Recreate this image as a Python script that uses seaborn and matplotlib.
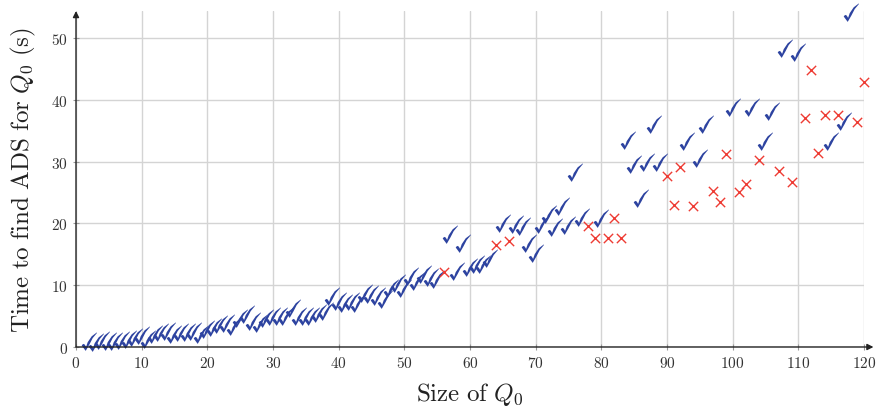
import numpy as np
import matplotlib
matplotlib.use('Agg')
import matplotlib.pyplot as plt
from matplotlib.path import Path
import seaborn as sns

# sizes of Q0 solved with an ADS found (check) and without (cross)
check_x = [2, 3, 4, 5, 6, 7, 8, 9, 10, 11, 12, 13, 14, 15, 16, 17, 18, 19, 20,
           21, 22, 23, 24, 25, 26, 27, 28, 29, 30, 31, 32, 33, 34, 35, 36, 37,
           38, 39, 40, 41, 42, 43, 44, 45, 46, 47, 48, 49, 50, 51, 52, 53, 54,
           55, 57, 58, 59, 60, 61, 62, 63, 65, 67, 68, 69, 70, 71, 72, 73, 74,
           75, 76, 77, 80, 84, 85, 86, 87, 88, 89, 93, 95, 96, 100, 103, 105,
           106, 108, 110, 115, 117, 118]
check_y = [0.8, 0.6, 0.9, 0.8, 0.8, 0.9, 1.2, 1.5, 1.8, 1.2, 2.0, 2.2, 2.5, 2.0,
           2.2, 2.3, 2.5, 2.0, 2.7, 3.0, 3.5, 3.8, 3.2, 4.5, 5.1, 4.1, 3.8, 4.6,
           4.9, 4.9, 4.9, 6.2, 4.9, 4.9, 4.9, 5.4, 5.7, 8.1, 7.3, 7.0, 7.3, 7.0,
           8.6, 8.4, 8.1, 7.6, 9.4, 10.2, 9.4, 11.3, 10.5, 11.6, 11.1, 10.8,
           18.1, 12.1, 16.6, 12.8, 13.2, 13.2, 14.3, 19.9, 19.7, 19.4, 16.6,
           15.1, 19.8, 21.3, 19.3, 22.7, 19.6, 28.2, 20.9, 20.7, 33.4, 29.4,
           24.0, 29.8, 36.0, 29.8, 33.2, 30.5, 35.9, 38.7, 38.7, 33.1, 38.1,
           48.2, 47.6, 33.1, 36.4, 54.1]

cross_x = [56, 64, 66, 78, 79, 81, 82, 83, 90, 91, 92, 94, 97, 98, 99, 101,
           102, 104, 107, 109, 111, 112, 113, 114, 116, 119, 120]
cross_y = [12.1, 16.5, 17.1, 19.6, 17.6, 17.6, 20.9, 17.6, 27.7, 23.0, 29.1,
           22.8, 25.3, 23.5, 31.2, 25.1, 26.4, 30.2, 28.4, 26.7, 37.0, 44.9,
           31.4, 37.6, 37.6, 36.4, 42.8]

xticks = list(range(0, 121, 10))
yticks = list(range(0, 51, 10))

DPI = 100
sns.set_style('white')
plt.rcParams['mathtext.fontset'] = 'cm'
plt.rcParams['font.family'] = ['DejaVu Serif']

# checkmark glyph, pixel units around the data point (y up)
check_verts = [(-3.8, -8.4), (-7.8, -3.0), (-6.4, -1.4), (-4.8, -2.0),
               (-3.4, -4.4), (-1.8, 0.3), (2.2, 6.2), (7.5, 10.2),
               (7.2, 9.2), (3.2, 4.4), (0.0, -1.8), (-3.8, -8.4)]
check_codes = [Path.MOVETO] + [Path.LINETO] * (len(check_verts) - 2) + [Path.CLOSEPOLY]
check_path = Path(check_verts, check_codes)
m = max(abs(v) for p in check_verts for v in p)
check_size = (2 * m * 72 / DPI) ** 2

fig = plt.figure(figsize=(8.78, 4.10), dpi=DPI)
ax = fig.add_axes([76 / 878, 1 - 348 / 410, (864 - 76) / 878, (348 - 12) / 410])

grid_col = '#d4d4d4'
for t in xticks:
    ax.axvline(t, color=grid_col, lw=1.0, zorder=0)
for t in yticks:
    ax.axhline(t, color=grid_col, lw=1.0, zorder=0)

sns.scatterplot(x=check_x, y=check_y, marker=check_path, s=check_size,
                color='#2d43a0', linewidth=0, ax=ax, clip_on=False, zorder=3)
sns.scatterplot(x=cross_x, y=cross_y, marker='x', s=45, color='#ee3b33',
                linewidth=1.0, ax=ax, clip_on=False, zorder=4)

ax.set_xlim(0, 120)
ax.set_ylim(0, (348 - 12) / 6.18)
for sp in ax.spines.values():
    sp.set_visible(False)

# axis lines with arrow heads
ax.annotate('', xy=(1.012, 0), xytext=(0, 0), xycoords='axes fraction',
            arrowprops=dict(arrowstyle='-|>', color='#222222', lw=1.0,
                            mutation_scale=9, shrinkA=0, shrinkB=0),
            annotation_clip=False)
ax.annotate('', xy=(0, 1.0), xytext=(0, 0), xycoords='axes fraction',
            arrowprops=dict(arrowstyle='-|>', color='#222222', lw=1.0,
                            mutation_scale=9, shrinkA=0, shrinkB=0),
            annotation_clip=False)

ax.set_xticks(xticks)
ax.set_yticks(yticks)
ax.set_xticklabels(['$%d$' % t for t in xticks])
ax.set_yticklabels(['$%d$' % t for t in yticks])
ax.tick_params(axis='both', which='major', direction='inout', length=4,
               width=0.8, color='#999999', labelsize=11, labelcolor='#333333',
               bottom=True, left=True, pad=4)

ax.set_xlabel(r'$\mathrm{Size\ of\ }Q_0$', fontsize=18, color='#222222', labelpad=7)
ax.set_ylabel(r'$\mathrm{Time\ to\ find\ ADS\ for\ }Q_0\ \mathrm{(s)}$',
              fontsize=18, color='#222222', labelpad=9)

if ax.get_legend() is not None:
    ax.get_legend().remove()

fig.savefig('out.png', dpi=DPI)
